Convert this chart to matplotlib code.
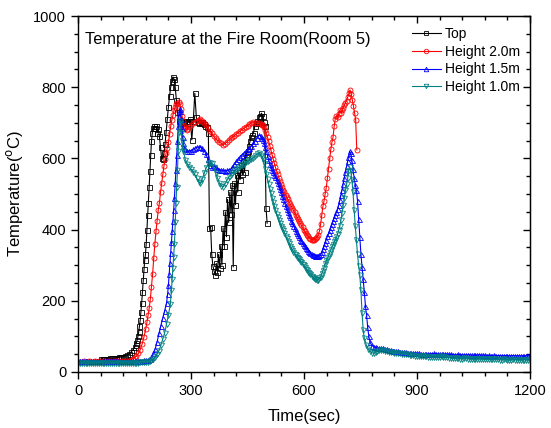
import numpy as np
import matplotlib.pyplot as plt
from matplotlib.ticker import MultipleLocator

plt.rcParams['font.family'] = ['Liberation Sans', 'DejaVu Sans']

# ---- Top (black squares), 60 s .. 502 s
top_t = np.concatenate([np.arange(60, 151, 5), np.arange(153, 202, 2), np.arange(204, 271, 3),
                        np.arange(274, 347, 4), np.arange(349, 503, 3)])
top_T = [36, 36, 37, 37, 37, 38, 38, 39, 39, 40, 41, 42, 43, 45, 47, 50, 55, 61, 69,
         75, 82, 90, 100, 112, 128, 145, 168, 194, 225, 258, 290, 315, 330, 360, 400, 440, 475, 520, 565,
         610, 648, 670, 684, 690,
         686, 690, 672, 682, 662, 632, 600, 598, 615, 640, 675, 710, 745, 775, 800, 818, 829, 822, 800,
         765, 730, 705, 692,
         700, 706, 702, 706, 700, 705, 710, 652, 706, 783, 716, 702, 700, 698, 701, 697, 692, 688, 671,
         404, 407, 330, 298, 284, 272, 305, 282, 330, 292,
         355, 300, 405, 355, 450, 380, 485, 420, 505, 445,
         525, 295, 530, 470, 552, 505, 562, 540, 580, 555,
         592, 562, 604, 612, 622, 636, 650, 660, 666, 672,
         690, 700, 705, 700, 715, 720, 727, 720, 702, 690,
         461, 418]

# ---- Height 2.0m (red circles), 0 s .. 740 s
h20_t = np.concatenate([np.arange(0, 146, 5), np.arange(150, 181, 5), np.arange(183, 271, 3),
                        np.arange(273, 289, 3), np.arange(290, 486, 5), np.arange(488, 741, 3)])
h20_T = [29, 29, 29, 30, 29, 29, 30, 29, 29, 30, 29, 30, 29, 29, 30, 29, 30, 30, 29, 30,
         30, 30, 30, 31, 31, 31, 32, 32, 34, 37,
         40, 45, 52, 62, 78, 98, 122,
         140, 160, 180, 205, 240, 275, 320, 360, 395, 425, 455, 475, 505, 530, 555, 578, 598, 615,
         630, 645, 668, 690, 708, 722, 735, 745, 752, 756, 758, 754,
         740, 720, 704, 692, 684, 680,
         682, 688, 694, 699, 703, 706, 709, 711, 706, 700,
         694, 686, 678, 670, 662, 656, 651, 647, 642, 638,
         641, 646, 651, 656, 660, 664, 668, 672, 676, 680,
         684, 688, 692, 696, 700, 702, 700, 698, 699, 696,
         695, 694, 689, 680, 670, 659, 648, 636, 623, 610,
         598, 586, 575, 565, 555, 545, 536, 528, 520, 512,
         505, 498, 492, 485, 478, 472, 466, 460, 454, 448,
         442, 436, 430, 424, 418, 412, 406, 400, 395, 390,
         385, 381, 377, 374, 372, 371, 371, 373, 376, 380,
         386, 396, 415, 440, 465,
         480, 500, 518, 545, 570, 600, 625, 645, 660, 690, 712, 720, 715, 725, 735, 728, 735, 742,
         750, 756, 762, 772, 783, 792, 782, 765, 748, 728, 708, 624]

# ---- Height 1.5m (blue up-triangles), 0 s .. 1200 s
h15_t = np.concatenate([np.arange(0, 236, 5), np.arange(238, 283, 2), np.arange(285, 486, 5),
                        np.arange(488, 717, 3), np.arange(718, 776, 3), np.arange(780, 1201, 5)])
h15_T = [32, 32, 31, 32, 32, 32, 31, 32, 32, 32, 32, 31, 32, 32, 32, 32, 31, 32, 32, 32,
         32, 32, 31, 32, 32, 32, 32, 31, 32, 32, 32, 32, 32, 32, 32, 33, 33, 34,
         35, 42, 52, 65, 85, 108, 130, 152, 172, 194,
         220, 245, 275, 305, 334, 365, 395, 425, 455, 490, 530, 567, 610, 650, 690, 720, 738, 734,
         712, 684, 660, 642, 630,
         625, 621, 620, 622, 625, 628, 632, 631, 632, 628,
         622, 611, 597, 582, 576, 578, 575, 571, 568, 567,
         566, 565, 566, 567, 569, 575, 584, 592, 598, 605,
         610, 615, 620, 625, 630, 636, 642, 650, 658, 665,
         663,
         658, 652, 644, 632, 620, 608, 596, 585, 576, 568,
         561, 554, 547, 539, 531, 523, 515, 505, 495, 485,
         476, 467, 459, 450, 442, 434, 425, 418, 411, 404,
         397, 390, 384, 378, 372, 367, 361, 357, 353, 349,
         345, 341, 337, 334, 331, 329, 328, 327, 326, 326,
         326, 328, 331, 337, 345, 354, 363, 372, 381, 390,
         399, 408, 417, 425, 433, 441, 449, 459, 470, 482,
         497, 512, 529, 546, 562, 578, 592,
         605, 620, 615, 595, 570, 545, 525, 512, 480, 430, 380, 330, 295, 260, 225, 185, 160, 125,
         100, 84,
         74, 71, 69, 68, 67, 68, 67, 65, 64, 62,
         61, 60, 59, 58, 58, 57, 56, 55, 55, 54,
         54, 53, 53, 52, 52, 52, 51, 51, 51, 51,
         51, 50, 51, 52, 51, 50, 50, 50, 49, 50,
         50, 49, 49, 48, 48, 48, 49, 48, 48, 47,
         48, 48, 48, 47, 47, 47, 47, 48, 47, 47,
         47, 46, 47, 46, 46, 47, 46, 46, 46, 45,
         46, 46, 45, 45, 45, 46, 45, 45, 45, 45,
         45, 44, 45, 45, 46]

# ---- Height 1.0m (teal down-triangles), 0 s .. 1200 s
h10_t = np.concatenate([np.arange(0, 246, 5), np.arange(248, 281, 2), np.arange(285, 486, 5),
                        np.arange(488, 717, 3), np.arange(718, 761, 3), np.arange(765, 1201, 5)])
h10_T = [26, 25, 26, 26, 25, 26, 26, 25, 26, 26, 25, 26, 26, 26, 25, 26, 25, 26, 26, 26,
         25, 26, 26, 25, 26, 26, 26, 25, 26, 26, 25, 26, 26, 27, 27, 28, 28, 29, 30,
         33, 37, 42, 50, 60, 75, 92, 110, 135, 160, 190,
         230, 262, 292, 322, 360, 420, 475, 520, 567, 620, 675, 705, 700, 672, 648, 630, 620,
         596, 585, 576, 570, 563, 555, 545, 535, 530, 543,
         558, 573, 583, 588, 586, 575, 560, 545, 532, 523,
         520, 528, 538, 547, 554, 560, 564, 570, 573, 578,
         582, 585, 590, 592, 595, 598, 602, 608, 612, 615,
         610,
         605, 598, 586, 571, 556, 541, 527, 515, 502, 490,
         478, 466, 455, 445, 436, 427, 418, 411, 405, 399,
         391, 383, 375, 368, 361, 354, 348, 343, 337, 332,
         328, 324, 319, 316, 312, 308, 304, 300, 295, 290,
         286, 282, 278, 274, 270, 267, 264, 262, 260, 258,
         259, 263, 268, 276, 284, 293, 302, 311, 319, 327,
         335, 343, 350, 357, 364, 370, 378, 387, 398, 410,
         427, 447, 468, 489, 510, 528, 545,
         565, 576, 565, 540, 505, 455, 410, 370, 330, 298, 272, 230, 165, 118, 95,
         76, 65, 58, 54, 53, 56, 60, 62, 62, 61,
         59, 58, 56, 55, 55, 54, 53, 52, 52, 51,
         50, 50, 49, 48, 48, 47, 46, 46, 45, 45,
         44, 44, 44, 43, 43, 43, 42, 42, 42, 43,
         44, 43, 42, 41, 40, 40, 39, 39, 38, 38,
         37, 37, 38, 38, 37, 36, 36, 36, 35, 36,
         37, 36, 36, 35, 35, 35, 36, 36, 35, 35,
         35, 34, 34, 35, 35, 34, 34, 34, 35, 34,
         34, 34, 33, 34, 34, 34, 33, 34]

series = [
    ("Top", top_t, top_T, "black", "s"),
    ("Height 2.0m", h20_t, h20_T, "#ff0000", "o"),
    ("Height 1.5m", h15_t, h15_T, "#0000ff", "^"),
    ("Height 1.0m", h10_t, h10_T, "#008080", "v"),
]

fig = plt.figure(figsize=(5.51, 4.28), dpi=100)
ax = fig.add_axes([0.1416, 0.131, 0.8204, 0.8316])

for name, t, T, c, m in series:
    ax.plot(t, T, color=c, lw=0.8, marker=m, ms=3.6, mfc='none', mec=c, mew=0.6, label=name)

ax.set_xlim(0, 1200)
ax.set_ylim(0, 1000)
ax.xaxis.set_major_locator(MultipleLocator(300))
ax.xaxis.set_minor_locator(MultipleLocator(60))
ax.yaxis.set_major_locator(MultipleLocator(200))
ax.yaxis.set_minor_locator(MultipleLocator(50))
ax.tick_params(which='both', direction='out', labelsize=10.5, width=1)
ax.tick_params(which='major', length=5)
ax.tick_params(which='minor', length=3)
for s in ax.spines.values():
    s.set_linewidth(1)

# mirrored inward ticks on top and right
top = ax.secondary_xaxis('top')
top.xaxis.set_major_locator(MultipleLocator(300))
top.xaxis.set_minor_locator(MultipleLocator(60))
top.tick_params(which='both', direction='in', labeltop=False, width=1)
top.tick_params(which='major', length=5)
top.tick_params(which='minor', length=3)
right = ax.secondary_yaxis('right')
right.yaxis.set_major_locator(MultipleLocator(200))
right.yaxis.set_minor_locator(MultipleLocator(50))
right.tick_params(which='both', direction='in', labelright=False, width=1)
right.tick_params(which='major', length=5)
right.tick_params(which='minor', length=3)

ax.set_xlabel("Time(sec)", fontsize=12, labelpad=8)
ax.set_ylabel("Temperature($^{\\rm o}$C)", fontsize=12, labelpad=6)
ax.text(0.015, 0.935, "Temperature at the Fire Room(Room 5)", transform=ax.transAxes,
        fontsize=11.7, va='center', ha='left')
ax.legend(loc='upper right', bbox_to_anchor=(0.99, 0.985), frameon=False, fontsize=10,
          numpoints=1, handlelength=2.1, labelspacing=0.27, handletextpad=0.3, borderaxespad=0,
          markerscale=0.9)

fig.savefig("out.png", dpi=100)
